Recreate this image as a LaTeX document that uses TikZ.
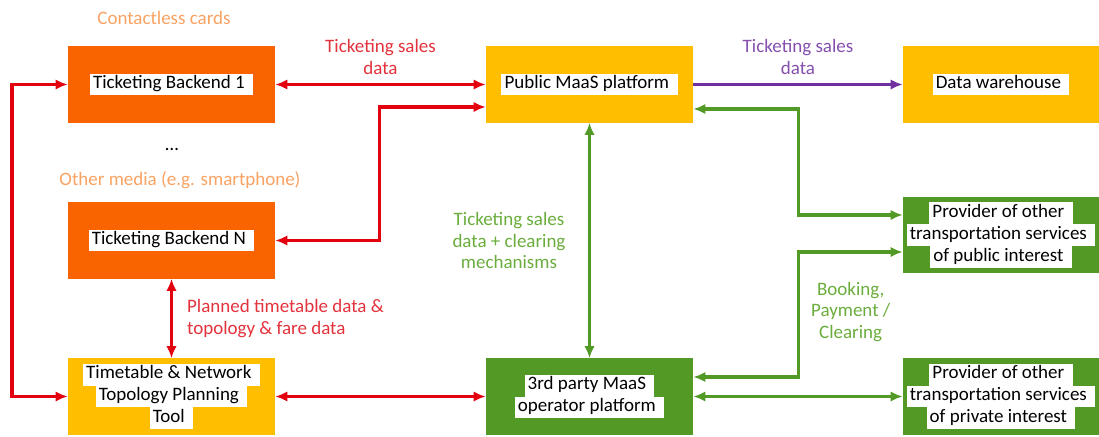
\documentclass[tikz,border=0pt]{standalone}
\usepackage{fontspec}
\setmainfont{Carlito}
\usetikzlibrary{positioning, arrows.meta, calc}
\definecolor{BackOrg} {HTML}{FA6400}
\definecolor{PlanGold}{HTML}{FFBE00}
\definecolor{OpGreen} {HTML}{529A25}
\definecolor{MediaOrg}{HTML}{F9A262}
\definecolor{SalesRed}{HTML}{E3000F}
\definecolor{RedTxt}  {HTML}{E2323C}
\definecolor{GrnTxt}  {HTML}{6AAD3C}
\definecolor{Purple}  {HTML}{7030A0}

% white strip behind every text line of a box
\newcommand{\hlline}[1]{{\setlength{\fboxsep}{0pt}\colorbox{white}{\strut\,#1\;\,}}}

\begin{document}
\begin{tikzpicture}[
  x=0.025cm, y=-0.025cm,
  font=\fontsize{13.5}{15.6}\selectfont, >={Latex[length=0.3cm, width=0.26cm]},
  every node/.style={align=center},
  backend/.style = {fill=BackOrg,  minimum width=5.175cm, minimum height=1.9cm, inner sep=0pt},
  plan/.style    = {fill=PlanGold, minimum width=5.175cm, minimum height=1.9cm, inner sep=0pt},
  maas/.style    = {fill=OpGreen,  minimum width=5.175cm, minimum height=1.9cm, inner sep=0pt},
  prov/.style    = {fill=OpGreen,  minimum width=4.9cm,   minimum height=1.9cm, inner sep=0pt},
  media/.style   = {text=MediaOrg},
  redflow/.style = {draw=SalesRed, line width=2.2pt},
  grnflow/.style = {draw=OpGreen,  line width=2.2pt},
  purflow/.style = {draw=Purple,   line width=2.2pt},
  lbl/.style     = {inner sep=2pt},
]
\useasboundingbox (0,0) rectangle (1099,436);

% ── Operator side ─────────────────────────────────────────────────────────────
\node[backend] (tb1) at (171.5, 84.5) {\hlline{Ticketing Backend 1}};
\node[backend] (tbn) at (171.5,240.5) {\hlline{Ticketing Backend N}};
\node[plan]    (ttp) at (171.5,396.5)
  {\hlline{Timetable \& Network}\\\hlline{Topology Planning}\\\hlline{Tool}};

\node[media] (cards) at (164, 18) {Contactless cards};
\node        (dots)  at (172,149) {\dots};
\node[media] (other) at (180,180) {Other media (e.g. smartphone)};

% ── MaaS platforms ────────────────────────────────────────────────────────────
\node[plan] (pub) at (589.5, 84.5) {\hlline{Public MaaS platform}};
\node[maas] (trd) at (589.5,396.5) {\hlline{3rd party MaaS}\\\hlline{operator platform}};

% ── Right column ──────────────────────────────────────────────────────────────
\node[plan, minimum width=4.9cm] (dwh) at (1001, 84.5) {\hlline{Data warehouse}};
\node[prov] (ppub)  at (1001,235)
  {\hlline{Provider of other}\\\hlline{transportation services}\\\hlline{of public interest}};
\node[prov] (ppriv) at (1001,396.5)
  {\hlline{Provider of other}\\\hlline{transportation services}\\\hlline{of private interest}};

% ── Red: ticketing / planning data ────────────────────────────────────────────
\coordinate (lbus) at (12,84.5);
\draw[redflow, <->] (tb1.west) -- (lbus) |- (ttp.west);

\draw[redflow, <->] (tb1.east) --
  node[lbl, above=4pt, text=RedTxt]{Ticketing sales\\data} (pub.west);

\draw[redflow, <->] (tbn.east) -| ($(pub.west)+(-106,22.5)$) -- ($(pub.west)+(0,22.5)$);

\draw[redflow, <->] (tbn.south) --
  node[lbl, right=8pt, align=left, text=RedTxt]{Planned timetable data \&\\topology \& fare data} (ttp.north);

\draw[redflow, <->] (ttp.east) -- (trd.west);

% ── Purple: sales data to warehouse ───────────────────────────────────────────
\draw[purflow, ->] (pub.east) --
  node[lbl, above=4pt, text=Purple!85]{Ticketing sales\\data} (dwh.west);

% ── Green: MaaS operator links ────────────────────────────────────────────────
\draw[grnflow, <->] (pub.south) --
  node[lbl, left=14pt, text=GrnTxt]{Ticketing sales\\data + clearing\\mechanisms} (trd.north);

\draw[grnflow, <->] ($(pub.east)+(0,24.5)$) -- ($(pub.east)+(105,24.5)$) |- ($(ppub.west)+(0,-20)$);

\draw[grnflow, <->] ($(trd.east)+(0,-19.5)$) -- ($(trd.east)+(105,-19.5)$) |-
  node[lbl, pos=0.26, right=6pt, text=GrnTxt]{Booking,\\Payment /\\Clearing} ($(ppub.west)+(0,17)$);

\draw[grnflow, <->] (trd.east) -- (ppriv.west);

\end{tikzpicture}
\end{document}
